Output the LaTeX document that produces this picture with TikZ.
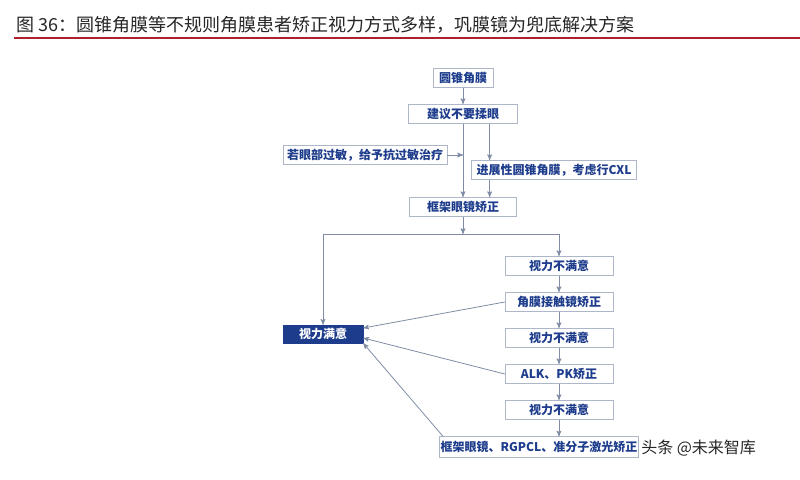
\documentclass[tikz,border=0pt]{standalone}
\usepackage{fontspec}
\setmainfont{Noto Sans CJK SC}
\usepackage{tikz}
\usetikzlibrary{arrows}
\definecolor{navy}{HTML}{1D3C8C}
\definecolor{boxline}{HTML}{AEB7C8}
\definecolor{linkgray}{HTML}{7F8CA4}
\definecolor{titlered}{HTML}{B0202A}
\definecolor{titlegray}{HTML}{262626}

\begin{document}
\begin{tikzpicture}[->,>=stealth',x=0.75pt,y=-0.75pt,node distance=27pt,
  box/.style={draw=boxline, fill=white, text=navy, font=\fontsize{9}{9}\selectfont\bfseries, minimum height=14.5pt, inner sep=1pt},
  okbox/.style={box, draw=navy, fill=navy, text=white, minimum height=13.5pt},
  lnk/.style={draw=linkgray, line width=0.6pt}]

  \useasboundingbox (0,0) rectangle (800,479);

  % title
  \node[anchor=west, inner sep=0, text=titlegray, font=\fontsize{13.5}{14}\selectfont] (title) at (16,25) {图 36：圆锥角膜等不规则角膜患者矫正视力方式多样，巩膜镜为兜底解决方案};
  \draw[-, draw=titlered, line width=1pt] (14,38) -- (800,38);

  % main column
  \node[box, minimum width=45pt] (ker) at (463,78) {圆锥角膜};
  \node[box, minimum width=82pt] (rub) [below of=ker] {建议不要揉眼};
  \node[box, minimum width=123pt] (allergy) at (365,155) {若眼部过敏，给予抗过敏治疗};
  \node[box, minimum width=124pt] (cxl) at (554,170) {进展性圆锥角膜，考虑行CXL};
  \node[box, minimum width=80pt] (frame) at (463,207) {框架眼镜矫正};
  \coordinate (split) at (463,234);

  % right column
  \node[box, minimum width=81pt] (bad1) at (559,266) {视力不满意};
  \node[box, minimum width=81pt] (rgp) [below of=bad1] {角膜接触镜矫正};
  \node[box, minimum width=81pt] (bad2) [below of=rgp] {视力不满意};
  \node[box, minimum width=81pt] (alk) [below of=bad2] {ALK、PK矫正};
  \node[box, minimum width=81pt] (bad3) [below of=alk] {视力不满意};
  \node[box, minimum width=144pt, minimum height=15.5pt] (last) at (539,447) {框架眼镜、RGPCL、准分子激光矫正};

  \node[okbox, minimum width=60pt] (ok) at (323,334) {视力满意};

  % watermark
  \node[anchor=west, inner sep=0, text=titlegray, font=\fontsize{12}{12}\selectfont] (mark) at (641,448) {头条 @未来智库};

  % links
  \draw[lnk] (ker) -- (rub);
  \draw[lnk] (rub) -- (frame);
  \draw[lnk] ([xshift=20pt]rub.south) -- ([xshift=20pt]rub.south |- cxl.north);
  \draw[lnk] ([xshift=20pt]rub.south |- cxl.south) -- ([xshift=20pt]rub.south |- frame.north);
  \draw[lnk] (allergy.east) -- (allergy.east -| rub.south);
  \draw[lnk] (frame) -- (split);
  \draw[lnk] (split) -| (ok);
  \draw[lnk] (split) -| (bad1);

  \draw[lnk] (bad1) -- (rgp);
  \draw[lnk] (rgp) -- (bad2);
  \draw[lnk] (bad2) -- (alk);
  \draw[lnk] (alk) -- (bad3);
  \draw[lnk] (bad3) -- (bad3 |- last.north);

  \draw[lnk] (rgp.west) -- ([yshift=4.5pt]ok.east);
  \draw[lnk] (alk.west) -- ([yshift=-3pt]ok.east);
  \draw[lnk] ([xshift=3pt]last.north west) -- (ok.south east);
\end{tikzpicture}
\end{document}
